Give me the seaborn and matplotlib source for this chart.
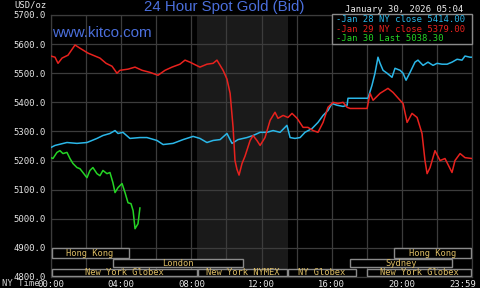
import numpy as np
import pandas as pd
import matplotlib
matplotlib.use("Agg")
import matplotlib.pyplot as plt
import matplotlib.transforms as mtransforms
from matplotlib.patches import Rectangle
import seaborn as sns

# ---------------- data ----------------
jan28_hours = [0.00, 0.23, 0.91, 1.48, 2.05, 2.62, 2.96, 3.36, 3.65, 3.82, 4.10, 4.50, 5.07, 5.47,
               6.04, 6.39, 6.96, 7.53, 8.10, 8.49, 8.89, 9.24, 9.64, 10.03, 10.32, 10.66, 11.17,
               11.52, 11.92, 12.31, 12.66, 13.06, 13.45, 13.63, 13.91, 14.20, 14.48, 14.88, 15.22,
               15.51, 15.79, 16.02, 16.31, 16.65, 16.88, 16.93, 18.07, 18.30, 18.47, 18.64, 18.76,
               18.93, 19.16, 19.44, 19.61, 19.90, 20.07, 20.24, 20.47, 20.75, 20.92, 21.21, 21.49,
               21.78, 22.01, 22.29, 22.58, 22.86, 23.15, 23.43, 23.60, 23.89, 24.00]
jan28_values = [5245, 5252, 5262, 5259, 5262, 5276, 5286, 5293, 5303, 5293, 5297, 5276, 5279, 5279,
                5269, 5255, 5259, 5272, 5283, 5276, 5262, 5269, 5272, 5293, 5259, 5272, 5279,
                5286, 5297, 5297, 5303, 5297, 5321, 5279, 5276, 5279, 5297, 5310, 5331,
                5355, 5372, 5396, 5390, 5386, 5390, 5414, 5414, 5459, 5500, 5555, 5534,
                5510, 5500, 5486, 5517, 5510, 5500, 5476, 5503, 5538, 5545, 5527, 5538,
                5527, 5534, 5531, 5531, 5538, 5548, 5545, 5559, 5555, 5555]

jan29_hours = [0.00, 0.23, 0.40, 0.63, 0.97, 1.37, 1.65, 2.11, 2.51, 2.79, 3.14, 3.48, 3.76, 3.93,
               4.39, 4.79, 5.19, 5.64, 6.10, 6.50, 6.90, 7.35, 7.64, 7.92, 8.49, 8.89, 9.24, 9.46,
               9.81, 10.03, 10.21, 10.38, 10.49, 10.60, 10.72, 10.89, 11.06, 11.35, 11.52, 11.74,
               11.92, 12.20, 12.49, 12.77, 12.94, 13.23, 13.51, 13.74, 14.03, 14.37, 14.65, 14.94,
               15.22, 15.51, 15.79, 16.08, 16.36, 16.65, 16.88, 17.05, 18.02, 18.19, 18.36, 18.76,
               19.21, 19.50, 19.90, 20.07, 20.30, 20.58, 20.87, 21.15, 21.32, 21.44, 21.61, 21.89,
               22.18, 22.46, 22.86, 23.03, 23.32, 23.60, 24.00]
jan29_values = [5559, 5555, 5534, 5552, 5562, 5597, 5586, 5569, 5559, 5552, 5534, 5524, 5500, 5510,
                5514, 5521, 5510, 5503, 5493, 5510, 5521, 5531, 5545, 5538, 5521, 5531, 5534, 5545,
                5510, 5480, 5431, 5314, 5200, 5170, 5150, 5190, 5215, 5269, 5286, 5269,
                5252, 5279, 5338, 5366, 5345, 5355, 5348, 5362, 5345, 5314, 5314, 5303,
                5297, 5331, 5383, 5400, 5396, 5400, 5383, 5379, 5379, 5431, 5407, 5431,
                5448, 5434, 5407, 5396, 5331, 5362, 5348, 5293, 5200, 5155, 5176, 5234,
                5200, 5207, 5159, 5200, 5224, 5210, 5207]

jan30_hours = [0.00, 0.11, 0.34, 0.51, 0.68, 0.91, 1.08, 1.25, 1.48, 1.65, 1.82, 2.05, 2.22, 2.39,
               2.62, 2.79, 2.96, 3.19, 3.36, 3.53, 3.65, 3.82, 4.05, 4.22, 4.39, 4.56, 4.68, 4.79,
               4.96, 5.07]
jan30_values = [5210, 5207, 5228, 5234, 5224, 5228, 5207, 5190, 5176, 5172, 5159, 5141, 5166, 5176,
                5155, 5148, 5166, 5155, 5159, 5124, 5090, 5107, 5121, 5090, 5055, 5052, 5028, 4966,
                4983, 5038]

series_names = ["Jan 28", "Jan 29", "Jan 30"]
legend_labels = ["Jan 28 NY close 5414.00", "Jan 29 NY close 5379.00", "Jan 30 Last 5038.30"]

y_ticks = [4800, 4900, 5000, 5100, 5200, 5300, 5400, 5500, 5600, 5700]
x_ticks = [0, 4, 8, 12, 16, 20, 24]
x_tick_labels = ["00:00", "04:00", "08:00", "12:00", "16:00", "20:00", "23:59"]

# sessions: (name, start hour, end hour, row)
session_names = ["Hong Kong", "Hong Kong", "London", "Sydney",
                 "New York Globex", "New York NYMEX", "NY Globex", "New York Globex"]
session_starts = [0.0, 19.5, 3.5, 17.0, 0.0, 8.33, 13.5, 18.0]
session_ends = [4.45, 24.0, 11.0, 22.9, 8.33, 13.5, 17.4, 24.0]
session_rows = [0, 0, 1, 1, 2, 2, 2, 2]

nymex_start, nymex_end = 8.33, 13.5

# ---------------- build frame ----------------
df = pd.concat([
    pd.DataFrame({"hour": jan28_hours, "price": jan28_values, "series": "Jan 28"}),
    pd.DataFrame({"hour": jan29_hours, "price": jan29_values, "series": "Jan 29"}),
    pd.DataFrame({"hour": jan30_hours, "price": jan30_values, "series": "Jan 30"}),
], ignore_index=True)

colors = {"Jan 28": "#2bb7e8", "Jan 29": "#e8221e", "Jan 30": "#25d425"}

sns.set_theme(style="dark")
plt.rcParams['font.family'] = ['DejaVu Sans Mono']

fig = plt.figure(figsize=(4.8, 2.88), dpi=100, facecolor="black")
ax = fig.add_axes([51 / 480, 11 / 288, 421 / 480, 262 / 288])
ax.set_facecolor("black")

ax.axvspan(nymex_start, nymex_end, color="#1a1a1a", zorder=0, lw=0)

for h in range(0, 25, 2):
    ax.axvline(h, color="#3c3c3c", lw=0.9, zorder=1)
for v in y_ticks:
    ax.axhline(v, color="#3c3c3c", lw=0.9, zorder=1)

sns.lineplot(data=df, x="hour", y="price", hue="series", palette=colors,
             estimator=None, sort=False, legend=False, linewidth=1.1, ax=ax, zorder=3)

ax.set_xlim(0, 24)
ax.set_ylim(4800, 5700)
ax.set_xlabel("")
ax.set_ylabel("")
ax.grid(False)
for s in ax.spines.values():
    s.set_color("#3c3c3c")
    s.set_linewidth(0.9)

ax.set_yticks(y_ticks)
ax.set_yticklabels([f"{v:.1f}" for v in y_ticks])
ax.set_xticks(x_ticks)
ax.set_xticklabels(x_tick_labels)
ax.tick_params(axis="both", length=0, colors="#e6e6e6", labelsize=6.4)
ax.tick_params(axis="y", pad=3.5)
ax.tick_params(axis="x", pad=2)
last = ax.get_xticklabels()[-1]
last.set_transform(last.get_transform() + mtransforms.ScaledTranslation(-0.09, 0, fig.dpi_scale_trans))

# session boxes
row_bounds = [(4863, 4900), (4831, 4863), (4800, 4831)]
for name, a, b, r in zip(session_names, session_starts, session_ends, session_rows):
    lo, hi = row_bounds[r]
    ax.add_patch(Rectangle((a + 0.03, lo + 2), b - a - 0.06, hi - lo - 4,
                           facecolor="black", edgecolor="#8a8a8a", lw=1.0, zorder=4))
    ax.text((a + b) / 2, (lo + hi) / 2, name, color="#dcbc64", fontsize=6.3,
            ha="center", va="center", zorder=5, clip_on=True)

# texts
fig.text(224 / 480, 1 - 6.5 / 288, "24 Hour Spot Gold (Bid)", color="#4b6fdc",
         fontsize=10.8, family="Liberation Sans", ha="center", va="center")
fig.text(47 / 480, 1 - 5 / 288, "USD/oz", color="#e6e6e6", fontsize=6.4, ha="right", va="center")
fig.text(463 / 480, 1 - 9 / 288, "January 30, 2026 05:04", color="#f0f0f0", fontsize=6.4,
         ha="right", va="center")
ax.text(0.003, 0.933, "www.kitco.com", transform=ax.transAxes, color="#4b6fdc",
        fontsize=10.9, family="Liberation Sans", ha="left", va="center", zorder=6)
fig.text(2 / 480, 1 - 284 / 288, "NY Time", color="#cfcfcf", fontsize=6.4, ha="left", va="center")

# legend box
fig.patches.append(Rectangle((332 / 480, 1 - 44 / 288), 140 / 480, 30 / 288,
                             transform=fig.transFigure, facecolor="black",
                             edgecolor="#8a8a8a", lw=1.0, zorder=5))
for i, (s, lab) in enumerate(zip(series_names, legend_labels)):
    fig.text(336 / 480, 1 - (19.5 + 9.7 * i) / 288, "-" + lab, color=colors[s],
             fontsize=6.4, ha="left", va="center", zorder=6)

fig.savefig("out.png", dpi=100, facecolor="black")
